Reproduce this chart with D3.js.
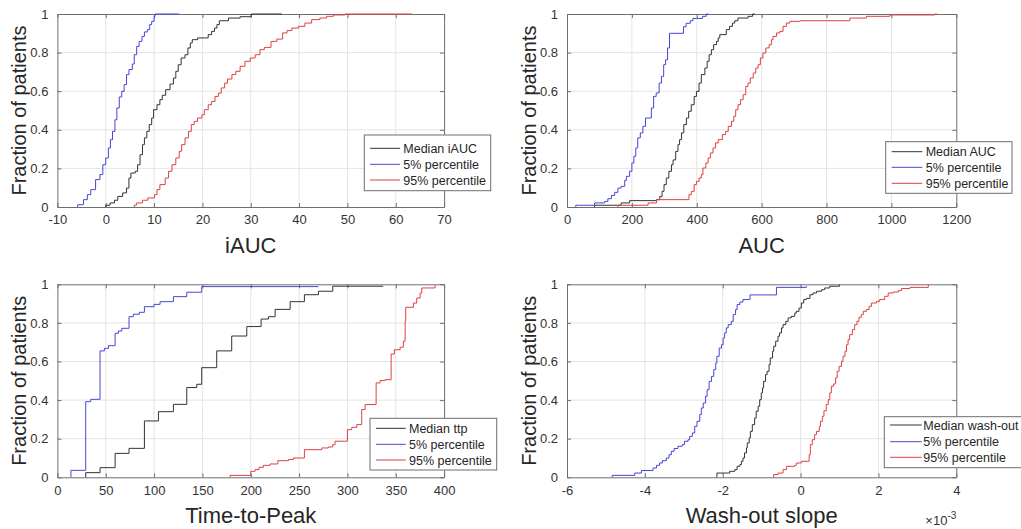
<!DOCTYPE html>
<html>
<head>
<meta charset="utf-8">
<script src="https://cdn.jsdelivr.net/npm/d3@7"></script>
<style>
  body { margin: 0; background: #fff; }
  text { font-family: "Liberation Sans", Arial, Helvetica, sans-serif; }
</style>
</head>
<body>
<svg id="chart" width="1021" height="529"></svg>
<script>
const iaucMedian = [[0,0],[0,0.009],[0.9,0.021],[1.8,0.035],[2.5,0.055],[3.5,0.073],[4.3,0.098],[4.8,0.15],[5.2,0.176],[6.1,0.185],[6.6,0.219],[7.1,0.271],[7.6,0.323],[8,0.358],[8.5,0.392],[9,0.427],[9.5,0.461],[9.9,0.504],[10.6,0.53],[11.2,0.556],[11.7,0.579],[12.4,0.608],[13.3,0.637],[14,0.668],[14.5,0.703],[15,0.737],[15.6,0.772],[16.4,0.789],[17,0.824],[17.5,0.85],[17.9,0.867],[19,0.876],[21.2,0.893],[21.9,0.91],[22.5,0.927],[23,0.945],[23.5,0.965],[25.4,0.979],[27.8,0.986],[30.1,1],[36.4,1]];
const iaucP5 = [[-5.8,0],[-5.8,0.012],[-4.6,0.038],[-3.8,0.064],[-3.1,0.09],[-2.1,0.142],[-1.2,0.168],[-0.6,0.219],[0,0.254],[0.55,0.306],[0.97,0.349],[1.4,0.392],[1.9,0.452],[2.3,0.513],[2.8,0.57],[3.3,0.599],[3.8,0.634],[4.3,0.686],[4.8,0.712],[5.5,0.741],[5.9,0.789],[6.4,0.832],[6.9,0.858],[7.5,0.884],[8,0.907],[8.6,0.919],[9.1,0.945],[9.5,0.962],[10,0.988],[10.2,1],[15.2,1]];
const iaucP95 = [[5.9,0],[5.9,0.01],[6.4,0.021],[7.6,0.035],[8.7,0.047],[10.1,0.064],[10.6,0.09],[11.2,0.116],[12.3,0.15],[13,0.185],[13.7,0.219],[14.5,0.254],[15.2,0.289],[15.7,0.323],[16.4,0.358],[17.1,0.392],[17.7,0.427],[18.3,0.444],[19,0.461],[19.9,0.478],[20.4,0.504],[21.2,0.53],[21.9,0.547],[22.6,0.573],[23.3,0.59],[23.9,0.617],[24.6,0.642],[25.2,0.663],[26.1,0.686],[26.9,0.703],[27.8,0.729],[28.8,0.755],[29.9,0.772],[30.9,0.789],[31.9,0.815],[32.8,0.827],[34.2,0.858],[35.4,0.87],[36.6,0.902],[37.5,0.914],[38.5,0.927],[39.9,0.936],[41.2,0.953],[42.6,0.971],[44.3,0.979],[45.7,0.988],[47.1,0.995],[49.5,1],[63.3,1]];

const aucMedian = [[85,0],[85,0.009],[167,0.021],[193,0.033],[276,0.038],[286,0.055],[293,0.081],[299,0.116],[306,0.15],[314,0.185],[322,0.219],[327,0.244],[335,0.288],[342,0.323],[347,0.349],[353,0.384],[360,0.427],[368,0.461],[375,0.496],[383,0.53],[392,0.573],[399,0.599],[407,0.642],[414,0.686],[425,0.72],[432,0.755],[438,0.789],[445,0.815],[452,0.841],[461,0.858],[466,0.876],[471,0.893],[491,0.919],[501,0.936],[510,0.953],[517,0.965],[527,0.979],[558,0.988],[572,1],[579,1]];
const aucP5 = [[27,0],[27,0.009],[85,0.021],[116,0.029],[126,0.043],[137,0.06],[147,0.076],[157,0.098],[167,0.107],[178,0.138],[183,0.159],[193,0.185],[200,0.228],[206,0.263],[212,0.306],[218,0.358],[226,0.384],[234,0.418],[242,0.461],[260,0.513],[267,0.573],[275,0.591],[284,0.642],[291,0.677],[298,0.737],[304,0.763],[310,0.824],[316,0.9],[359,0.934],[367,0.952],[380,0.965],[388,0.977],[418,0.988],[429,1],[436,1]];
const aucP95 = [[157,0],[157,0.009],[250,0.021],[276,0.038],[376,0.064],[383,0.081],[392,0.116],[399,0.133],[407,0.15],[414,0.168],[419,0.202],[428,0.228],[435,0.254],[442,0.28],[450,0.306],[458,0.332],[466,0.349],[479,0.375],[489,0.392],[497,0.418],[507,0.444],[514,0.47],[520,0.504],[527,0.53],[535,0.556],[543,0.582],[551,0.625],[558,0.642],[565,0.668],[574,0.694],[582,0.72],[589,0.737],[596,0.772],[604,0.798],[613,0.824],[623,0.841],[630,0.867],[635,0.884],[646,0.902],[656,0.91],[666,0.936],[676,0.953],[687,0.962],[718,0.965],[872,0.979],[923,0.988],[995,0.995],[1134,1],[1140,1]];

const ttpMedian = [[29.3,0],[29.3,0.024],[44.1,0.05],[59.7,0.124],[74.1,0.15],[90,0.292],[104.5,0.34],[120,0.378],[133.8,0.465],[144.1,0.482],[149.3,0.568],[164.8,0.655],[180.3,0.732],[195.9,0.781],[210.7,0.82],[218.3,0.832],[225.2,0.87],[240.7,0.91],[255.5,0.946],[270,0.964],[284.8,0.99],[337,0.99]];
const ttpP5 = [[14,0],[14,0.036],[29.3,0.392],[34.5,0.404],[44.1,0.655],[48.6,0.668],[52.8,0.682],[59.7,0.746],[63.1,0.758],[66.6,0.772],[74.1,0.832],[78.6,0.845],[84.8,0.855],[90,0.884],[100,0.896],[106.2,0.91],[120,0.936],[133.8,0.959],[149.3,0.988],[270,0.988]];
const ttpP95 = [[178.6,0],[178.6,0.01],[200,0.031],[204.5,0.04],[208.6,0.052],[213.1,0.062],[220,0.069],[228,0.086],[239,0.092],[244.1,0.1],[255.5,0.143],[273.4,0.152],[280.3,0.157],[284.8,0.169],[287.2,0.187],[300,0.247],[304.5,0.259],[309.7,0.273],[314.8,0.351],[318.3,0.377],[329.7,0.489],[333.8,0.501],[339,0.506],[345.2,0.639],[348.6,0.661],[354.5,0.674],[357.9,0.705],[359.7,0.808],[360.3,0.881],[368.3,0.903],[371.7,0.929],[375.2,0.955],[376.9,0.981],[390.7,0.995]];

// wash-out slope values in units of 1e-3
const washMedian = [[-2.15,0],[-2.15,0.022],[-1.82,0.031],[-1.69,0.04],[-1.63,0.057],[-1.56,0.066],[-1.52,0.083],[-1.48,0.1],[-1.44,0.126],[-1.39,0.152],[-1.37,0.178],[-1.32,0.204],[-1.29,0.238],[-1.24,0.273],[-1.18,0.307],[-1.14,0.342],[-1.09,0.368],[-1.05,0.402],[-1.01,0.437],[-0.98,0.463],[-0.95,0.497],[-0.9,0.532],[-0.86,0.549],[-0.81,0.584],[-0.78,0.618],[-0.72,0.653],[-0.69,0.679],[-0.64,0.705],[-0.58,0.731],[-0.54,0.748],[-0.49,0.774],[-0.45,0.791],[-0.38,0.808],[-0.32,0.826],[-0.24,0.834],[-0.15,0.851],[-0.11,0.86],[-0.04,0.877],[0.02,0.903],[0.08,0.921],[0.15,0.927],[0.24,0.946],[0.32,0.955],[0.41,0.964],[0.54,0.972],[0.62,0.981],[0.75,0.99],[1.0,0.998]];
const washP5 = [[-4.84,0],[-4.84,0.01],[-4.26,0.022],[-4.09,0.035],[-3.79,0.048],[-3.7,0.062],[-3.62,0.074],[-3.55,0.086],[-3.45,0.1],[-3.38,0.117],[-3.32,0.135],[-3.25,0.149],[-3.15,0.161],[-3.04,0.169],[-2.98,0.187],[-2.89,0.195],[-2.85,0.212],[-2.78,0.23],[-2.72,0.264],[-2.66,0.29],[-2.59,0.325],[-2.55,0.359],[-2.5,0.385],[-2.44,0.42],[-2.4,0.454],[-2.35,0.497],[-2.29,0.523],[-2.23,0.558],[-2.18,0.592],[-2.15,0.627],[-2.09,0.67],[-2.03,0.687],[-1.99,0.722],[-1.95,0.748],[-1.91,0.774],[-1.86,0.791],[-1.78,0.808],[-1.73,0.843],[-1.67,0.869],[-1.63,0.895],[-1.56,0.908],[-1.48,0.921],[-1.3,0.945],[-0.62,0.984],[0.15,0.99]];
const washP95 = [[-0.69,0],[-0.69,0.014],[-0.58,0.022],[-0.45,0.04],[-0.36,0.057],[-0.15,0.062],[-0.11,0.074],[0.02,0.083],[0.22,0.117],[0.25,0.169],[0.3,0.195],[0.36,0.221],[0.41,0.238],[0.48,0.264],[0.51,0.29],[0.56,0.316],[0.6,0.345],[0.66,0.377],[0.71,0.402],[0.75,0.437],[0.79,0.472],[0.85,0.484],[0.9,0.515],[0.94,0.549],[0.99,0.575],[1.05,0.601],[1.09,0.627],[1.14,0.653],[1.18,0.687],[1.22,0.713],[1.26,0.739],[1.33,0.765],[1.39,0.791],[1.45,0.808],[1.5,0.829],[1.56,0.843],[1.61,0.86],[1.69,0.869],[1.76,0.886],[1.82,0.903],[1.95,0.912],[2.03,0.921],[2.16,0.938],[2.25,0.955],[2.38,0.96],[2.51,0.967],[2.59,0.978],[2.81,0.984],[3.28,0.998]];

const yTicks = [0, 0.2, 0.4, 0.6, 0.8, 1];
const seriesColors = ['#333333', '#4646d8', '#de4040'];
const percentileNames = ['5% percentile', '95% percentile'];

const panels = [
  { left: 57.4, right: 444.1, top: 14, bottom: 207, domain: [-10, 70], ticks: d3.range(-10, 71, 10),
    label: 'iAUC', median: 'Median iAUC', series: [iaucMedian, iaucP5, iaucP95],
    legend: { x: 364.3, y: 135, w: 126.4, h: 55.7, l0: 370, l1: 400, tx: 403.3, rows: [148.3, 164.3, 180] } },
  { left: 567, right: 956.3, top: 14, bottom: 207, domain: [0, 1200], ticks: d3.range(0, 1201, 200),
    label: 'AUC', median: 'Median AUC', series: [aucMedian, aucP5, aucP95],
    legend: { x: 885.7, y: 141.7, w: 126.3, h: 51.6, l0: 891.7, l1: 922.3, tx: 925.7, rows: [151.7, 167.3, 183.3] } },
  { left: 57.4, right: 444.1, top: 284.3, bottom: 477.3, domain: [0, 400], ticks: d3.range(0, 401, 50),
    label: 'Time-to-Peak', median: 'Median ttp', series: [ttpMedian, ttpP5, ttpP95],
    legend: { x: 370, y: 418.3, w: 126.7, h: 51.7, l0: 376, l1: 405.7, tx: 409, rows: [428.3, 444.3, 460] } },
  { left: 567, right: 956.3, top: 284.3, bottom: 477.3, domain: [-6, 4], ticks: d3.range(-6, 5, 2),
    label: 'Wash-out slope', median: 'Median wash-out', series: [washMedian, washP5, washP95], exponent: '-3',
    legend: { x: 884.3, y: 416.7, w: 140, h: 51, l0: 890, l1: 921.7, tx: 923.3, rows: [425, 441.7, 457.3] } }
];

const svg = d3.select('#chart');
svg.append('rect').attr('width', 1021).attr('height', 529).attr('fill', '#fff');

const axisColor = '#6e6e6e';
const tickLen = 4;

panels.forEach((p, i) => {
  const x = d3.scaleLinear().domain(p.domain).range([p.left, p.right]);
  const y = d3.scaleLinear().domain([0, 1]).range([p.bottom, p.top]);
  const g = svg.append('g');

  // grid
  g.append('g').selectAll('line').data(p.ticks.slice(1, -1)).join('line')
    .attr('x1', d => x(d)).attr('x2', d => x(d))
    .attr('y1', p.top).attr('y2', p.bottom)
    .attr('stroke', '#e4e4e4').attr('stroke-width', 1);
  g.append('g').selectAll('line').data(yTicks.slice(1, -1)).join('line')
    .attr('x1', p.left).attr('x2', p.right)
    .attr('y1', d => y(d)).attr('y2', d => y(d))
    .attr('stroke', '#e4e4e4').attr('stroke-width', 1);

  // axes, matlab style: ticks inside, mirrored
  const bottomAxis = d3.axisBottom(x).tickValues(p.ticks).tickSizeInner(-tickLen).tickSizeOuter(0)
    .tickPadding(8).tickFormat(d => String(d));
  const leftAxis = d3.axisLeft(y).tickValues(yTicks).tickSizeInner(-tickLen).tickSizeOuter(0)
    .tickPadding(9).tickFormat(d => String(d));

  const gx = g.append('g').attr('transform', `translate(0,${p.bottom})`).call(bottomAxis);
  const gy = g.append('g').attr('transform', `translate(${p.left},0)`).call(leftAxis);
  g.append('g').attr('transform', `translate(0,${p.top})`)
    .call(d3.axisTop(x).tickValues(p.ticks).tickSizeInner(-tickLen).tickSizeOuter(0).tickFormat(''));
  g.append('g').attr('transform', `translate(${p.right},0)`)
    .call(d3.axisRight(y).tickValues(yTicks).tickSizeInner(-tickLen).tickSizeOuter(0).tickFormat(''));

  g.selectAll('.domain').attr('stroke', axisColor);
  g.selectAll('.tick line').attr('stroke', axisColor);
  [gx, gy].forEach(a => a.selectAll('.tick text')
    .attr('fill', '#333').attr('font-size', 13)
    .attr('font-family', '"Liberation Sans", Arial, sans-serif'));

  // steps
  const clipId = `clip${i}`;
  svg.append('clipPath').attr('id', clipId).append('rect')
    .attr('x', p.left).attr('y', p.top - 1).attr('width', p.right - p.left).attr('height', p.bottom - p.top + 2);

  const line = d3.line().curve(d3.curveStepAfter)
    .x(d => x(d[0])).y(d => y(d[1]));

  p.series.forEach((s, k) => {
    g.append('path').datum(s)
      .attr('clip-path', `url(#${clipId})`)
      .attr('d', line)
      .attr('fill', 'none')
      .attr('stroke', seriesColors[k])
      .attr('stroke-width', 1);
  });

  // labels
  g.append('text')
    .attr('transform', `translate(${p.left - 31},${(p.top + p.bottom) / 2}) rotate(-90)`)
    .attr('text-anchor', 'middle')
    .attr('font-size', 20).attr('fill', '#262626')
    .text('Fraction of patients');

  g.append('text')
    .attr('x', (p.left + p.right) / 2).attr('y', p.bottom + 45.5)
    .attr('text-anchor', 'middle')
    .attr('font-size', 22).attr('fill', '#262626')
    .text(p.label);

  if (p.exponent) {
    const t = g.append('text')
      .attr('x', p.right).attr('y', p.bottom + 48)
      .attr('text-anchor', 'end')
      .attr('font-size', 13).attr('fill', '#333');
    t.append('tspan').text('\u00d710');
    t.append('tspan').attr('dy', -6).attr('font-size', 10).text(p.exponent);
  }

  // legend
  const L = p.legend;
  const lg = g.append('g');
  lg.append('rect')
    .attr('x', L.x).attr('y', L.y).attr('width', L.w).attr('height', L.h)
    .attr('fill', '#fff').attr('stroke', axisColor).attr('stroke-width', 1);
  const names = [p.median, ...percentileNames];
  names.forEach((name, k) => {
    lg.append('line')
      .attr('x1', L.l0).attr('x2', L.l1)
      .attr('y1', L.rows[k]).attr('y2', L.rows[k])
      .attr('stroke', seriesColors[k]).attr('stroke-width', 1);
    lg.append('text')
      .attr('x', L.tx).attr('y', L.rows[k] + 4.5)
      .attr('font-size', 12.5).attr('fill', '#262626')
      .text(name);
  });
});
</script>
</body>
</html>
